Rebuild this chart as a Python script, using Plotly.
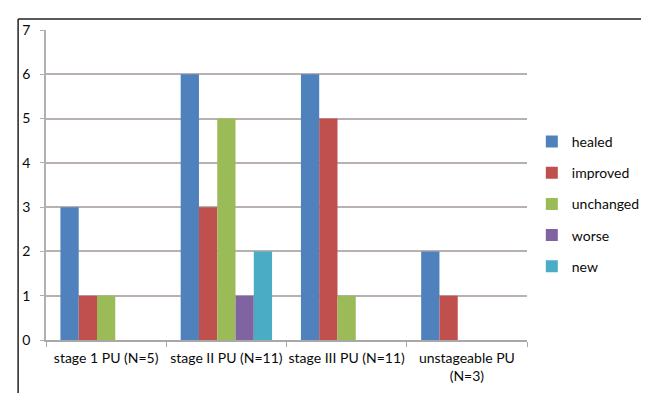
import plotly.graph_objects as go

categories = ["stage 1 PU (N=5)", "stage II PU (N=11)", "stage III PU (N=11)", "unstageable PU<br>(N=3)"]
series_names = ["healed", "improved", "unchanged", "worse", "new"]
healed = [3, 6, 6, 2]
improved = [1, 3, 5, 1]
unchanged = [1, 5, 1, 0]
worse = [0, 1, 0, 0]
new = [0, 2, 0, 0]
colors = ["#4F81BD", "#C0504D", "#9BBB59", "#8064A2", "#4BACC6"]

values = [healed, improved, unchanged, worse, new]

fig = go.Figure()
for i, (name, vals) in enumerate(zip(series_names, values)):
    fig.add_trace(go.Bar(x=categories, y=vals, name=name, marker_color=colors[i],
                         marker_line_width=0, legendgroup=name))

font = dict(family="Lato, Open Sans, sans-serif", size=14, color="#0a0a0a")
fig.update_layout(
    width=649, height=393,
    margin=dict(l=38, r=111, t=22, b=61),
    paper_bgcolor="white", plot_bgcolor="white",
    barmode="group", bargap=0.24, bargroupgap=0,
    font=font,
    showlegend=True,
    legend=dict(x=1.01, y=0.439, xanchor="left", yanchor="middle",
                font=font, tracegroupgap=10, itemwidth=30),
    xaxis=dict(showline=True, linecolor="#a8a8a8", linewidth=1.5,
               ticks="outside", tickson="boundaries", ticklen=5, tickcolor="#a8a8a8",
               showgrid=False, tickfont=font, ticklabelstandoff=4,
               tickangle=0, automargin=False),
    yaxis=dict(range=[0, 7], dtick=1, showline=True, linecolor="#b0b0b0", linewidth=1.5,
               ticks="outside", ticklen=4, tickcolor="#b0b0b0",
               showgrid=True, gridcolor="#b9b1b1", gridwidth=1.6, zeroline=False,
               tickfont=font, ticklabelstandoff=7, automargin=False),
    shapes=[
        dict(type="line", xref="paper", yref="paper", x0=-0.058, x1=1.3, y0=1.0355, y1=1.0355,
             line=dict(color="#222222", width=1.5)),
        dict(type="line", xref="paper", yref="paper", x0=-0.058, x1=-0.058, y0=1.0355, y1=-0.25,
             line=dict(color="#222222", width=1.5)),
    ],
)

fig.write_html("out.html")
